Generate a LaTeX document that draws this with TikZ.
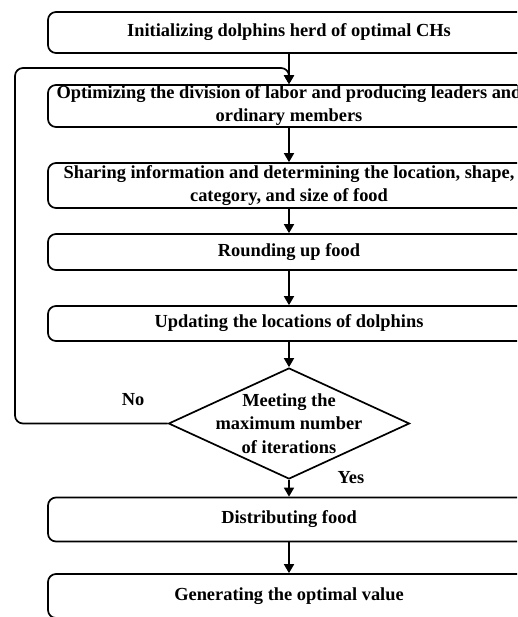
\documentclass[tikz,border=0pt]{standalone}
\usepackage{fontspec}
\setmainfont{Liberation Serif}
\usetikzlibrary{arrows.meta,shapes.geometric}
\tikzset{
  stepbox/.style={draw, line width=1.7pt, rounded corners=8pt, minimum width=482pt, inner sep=0pt, align=center, font=\bfseries\fontsize{18.4}{23}\selectfont},
  decision/.style={draw, shape=diamond, line width=1.7pt, inner sep=0pt, minimum width=241pt, minimum height=111pt},
  lbl/.style={align=center, inner sep=0pt, font=\bfseries\fontsize{18.4}{23.5}\selectfont},
  arrow/.style={line width=1.7pt, -{Triangle[width=10pt,length=9pt]}}
}
\begin{document}
\begin{tikzpicture}[x=1pt,y=-1pt]
\useasboundingbox (0,0) rectangle (517,617);
\clip (0,0) rectangle (517,617);
\node[stepbox, minimum height=41pt] (b1) at (289,32.5) {Initializing dolphins herd of optimal CHs};
\node[stepbox, minimum height=42pt] (b2) at (289,106) {Optimizing the division of labor and producing leaders and\\ordinary members};
\node[stepbox, minimum height=45pt] (b3) at (289,185.5) {Sharing information and determining the location, shape,\\category, and size of food};
\node[stepbox, minimum height=36pt] (b4) at (289,252) {Rounding up food};
\node[stepbox, minimum height=35pt] (b5) at (289,323.5) {Updating the locations of dolphins};
\node[decision] (dec) at (289,423.5) {};
\node[lbl] (dectext) at (289,423.5) {Meeting the\\maximum number\\of iterations};
\node[stepbox, minimum height=44pt] (b6) at (289,519.5) {Distributing food};
\node[stepbox, minimum height=44pt] (b7) at (289,596) {Generating the optimal value};
\node[lbl] (no) at (133,400) {No};
\node[lbl] (yes) at (351,478) {Yes};
\coordinate (c1) at (15,423.5);
\coordinate (c2) at (15,68);
\coordinate (c3) at (289,68);
\draw[arrow] (b1.south) -- (b2.north);
\draw[arrow, rounded corners=8pt] (dec.west) -- (c1) -- (c2) -- (c3) -- (b2.north);
\draw[arrow] (b2.south) -- (b3.north);
\draw[arrow] (b3.south) -- (b4.north);
\draw[arrow] (b4.south) -- (b5.north);
\draw[arrow] (b5.south) -- (dec.north);
\draw[arrow] (dec.south) -- (b6.north);
\draw[arrow] (b6.south) -- (b7.north);
\end{tikzpicture}
\end{document}
